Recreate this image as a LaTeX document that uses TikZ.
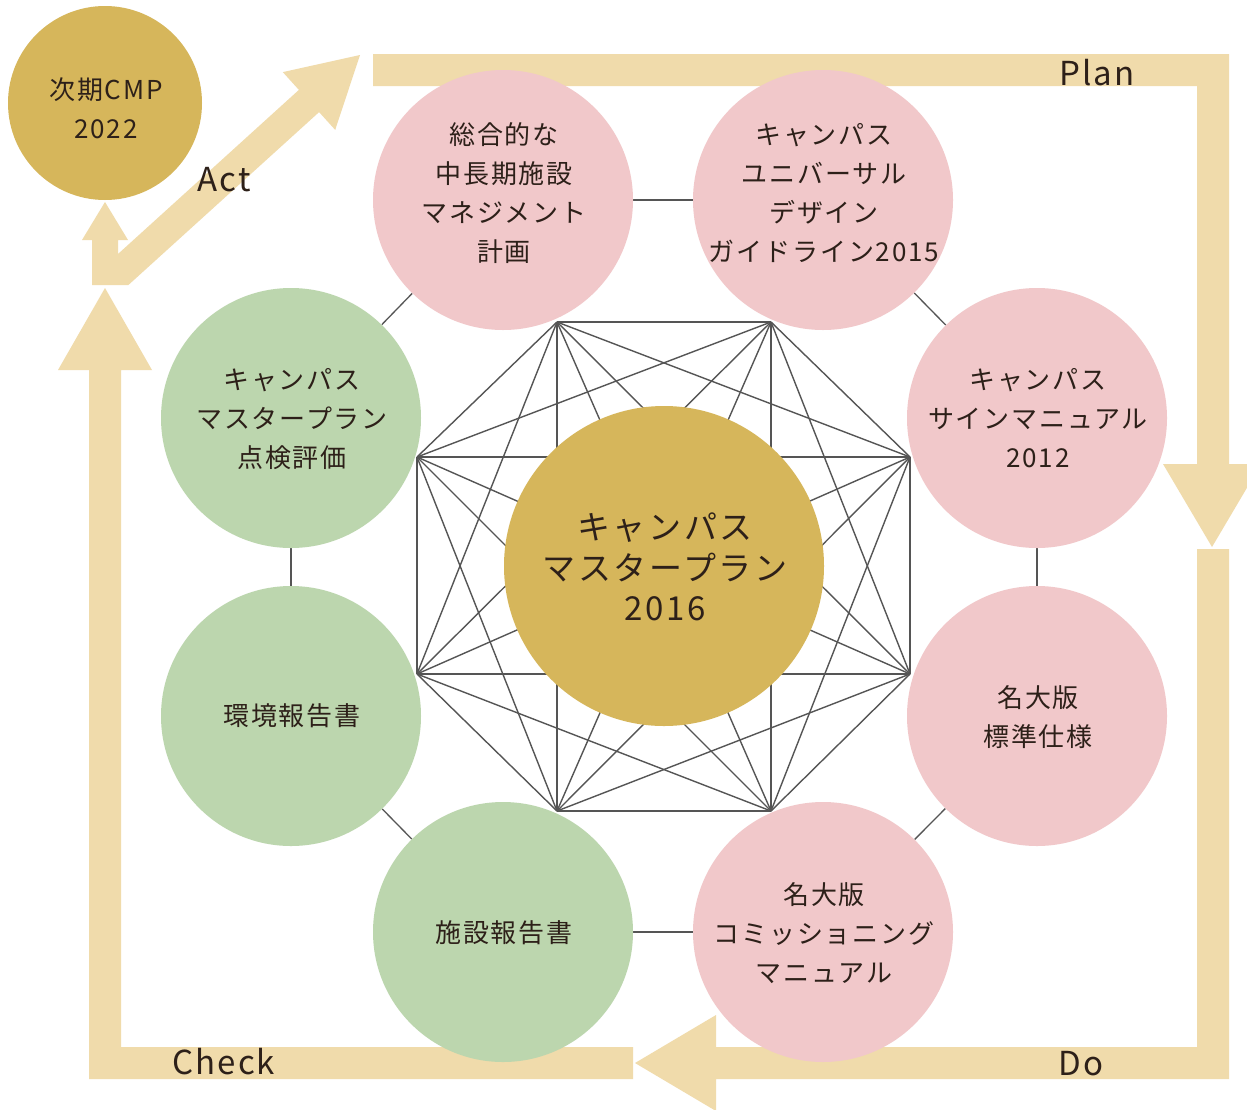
\documentclass[tikz,border=0pt]{standalone}
\usepackage{fontspec}
\setmainfont{Noto Sans CJK JP}
\newfontfamily\jpfont[LetterSpace=7]{Noto Sans CJK JP}
\newfontfamily\jpbig[LetterSpace=8]{Noto Sans CJK JP}
\newfontfamily\latfont[LetterSpace=6]{Noto Sans CJK JP}
\definecolor{pinkC}{HTML}{F1C8CA}
\definecolor{greenC}{HTML}{BCD6AE}
\definecolor{goldC}{HTML}{D6B65B}
\definecolor{beigeC}{HTML}{F0DBAB}
\definecolor{lineC}{HTML}{555555}
\definecolor{txtC}{HTML}{2D2019}
\pgfdeclarelayer{bg}
\pgfsetlayers{bg,main}
\tikzset{
  outer/.style={circle, minimum size=260pt, inner sep=0pt, draw=none},
  pinkc/.style={outer, fill=pinkC},
  greenc/.style={outer, fill=greenC},
  goldc/.style={circle, inner sep=0pt, draw=none, fill=goldC},
  ctext/.style={align=center, text=txtC, inner sep=0pt, font=\jpfont\fontsize{26}{39}\selectfont},
  bigtext/.style={align=center, text=txtC, inner sep=0pt, font=\jpbig\fontsize{33}{40.5}\selectfont},
  phase/.style={text=txtC, inner sep=0pt, anchor=base, font=\latfont\fontsize{33}{40}\selectfont},
  band/.style={fill=beigeC, draw=none},
  kline/.style={draw=lineC, line width=1.4pt},
  rline/.style={draw=lineC, line width=1.3pt},
}
\begin{document}
\begin{tikzpicture}[x=1pt,y=-1pt]
\useasboundingbox (0,0) rectangle (1247,1109);

% circles
\node[goldc, minimum size=320pt] (mc) at (664,566) {};
\node[goldc, minimum size=194pt] (nx) at (105,103) {};
\node[pinkc]  (o1) at (503,200) {};
\node[pinkc]  (o2) at (823,200) {};
\node[pinkc]  (o3) at (1037,418) {};
\node[pinkc]  (o4) at (1037,716) {};
\node[pinkc]  (o5) at (823,932) {};
\node[greenc] (o6) at (503,932) {};
\node[greenc] (o7) at (291,716) {};
\node[greenc] (o8) at (291,418) {};

% octagon vertices
\coordinate (v1) at (557,322);
\coordinate (v2) at (771,322);
\coordinate (v3) at (910,457);
\coordinate (v4) at (910,674);
\coordinate (v5) at (771,811);
\coordinate (v6) at (557,811);
\coordinate (v7) at (417,674);
\coordinate (v8) at (417,457);

\begin{pgfonlayer}{bg}
  \fill[white] (0,0) rectangle (1247,1109);
  % Plan
  \path[band] (373,54) -- (1229,54) -- (1229,464) -- (1261,464) -- (1212,547)
     -- (1163,464) -- (1197,464) -- (1197,86) -- (373,86) -- cycle;
  % Do
  \path[band] (1197,549) -- (1229,549) -- (1229,1079) -- (716,1079) -- (716,1111)
     -- (635,1063) -- (716,1015) -- (716,1047) -- (1197,1047) -- cycle;
  % Check
  \path[band] (633,1047) -- (633,1079) -- (89,1079) -- (89,370) -- (58,370)
     -- (105,288) -- (152,370) -- (121,370) -- (121,1047) -- cycle;
  % Act
  \path[band] (92,285) -- (92,240) -- (82,240) -- (105,202) -- (128,240) -- (118,240)
     -- (118,254) -- (298.9,89.9) -- (282.8,72.1) -- (360,55) -- (335.2,129.9)
     -- (319.1,112.1) -- (128.4,285) -- cycle;
  % complete graph
  \foreach \i in {1,...,7} {
    \pgfmathtruncatemacro\nxt{\i+1}
    \foreach \j in {\nxt,...,8} {
      \draw[kline] (v\i) -- (v\j);
    }
  }
  % ring
  \draw[rline] (o1) -- (o2);
  \draw[rline] (o2) -- (o3);
  \draw[rline] (o3) -- (o4);
  \draw[rline] (o4) -- (o5);
  \draw[rline] (o5) -- (o6);
  \draw[rline] (o6) -- (o7);
  \draw[rline] (o7) -- (o8);
  \draw[rline] (o8) -- (o1);
\end{pgfonlayer}

% texts
\node[bigtext] (tmc) at (665,567) {キャンパス\\マスタープラン\\2016};
\node[ctext] (tnx) at (106,108) {次期CMP\\2022};
\node[ctext] (t1) at (504,193) {総合的な\\中長期施設\\マネジメント\\計画};
\node[ctext] (t2) at (824,193) {キャンパス\\ユニバーサル\\デザイン\\ガイドライン2015};
\node[ctext] (t3) at (1038,418) {キャンパス\\サインマニュアル\\2012};
\node[ctext] (t4) at (1038,717) {名大版\\標準仕様};
\node[ctext] (t5) at (824,933) {名大版\\コミッショニング\\マニュアル};
\node[ctext] (t6) at (504,933) {施設報告書};
\node[ctext] (t7) at (292,716) {環境報告書};
\node[ctext] (t8) at (292,419) {キャンパス\\マスタープラン\\点検評価};

\node[phase] (lp) at (1097,85) {Plan};
\node[phase] (la) at (224,191) {Act};
\node[phase] (ld) at (1081,1075) {Do};
\node[phase] (lc) at (224,1074) {Check};
\end{tikzpicture}
\end{document}
